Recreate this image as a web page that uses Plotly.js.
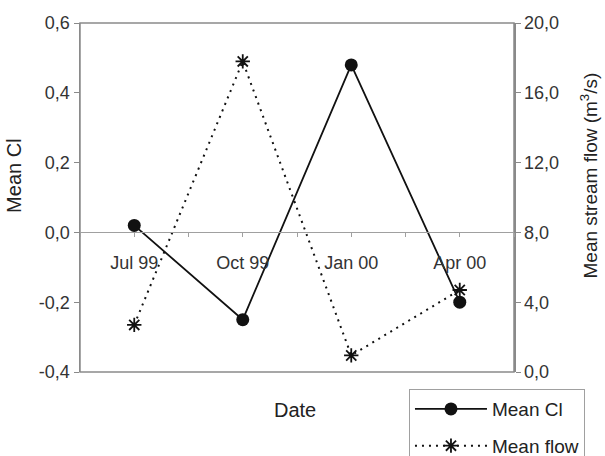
<!DOCTYPE html>
<html>
<head>
<meta charset="utf-8">
<script src="https://cdn.plot.ly/plotly-3.0.1.min.js"></script>
<style>
  html, body { margin: 0; padding: 0; background: #fff; }
  #chart { width: 605px; height: 456px; }
</style>
</head>
<body>
<div id="chart"></div>
<script>
// Quarterly sampling dates
const dates = ['Jul 99', 'Oct 99', 'Jan 00', 'Apr 00'];
// Mean chloride index (left axis)
const meanCl = [0.02, -0.25, 0.48, -0.20];
// Mean stream flow, m3/s (right axis)
const meanFlow = [2.7, 17.8, 0.95, 4.7];

// Axis tick values and labels (comma decimal separator)
const clTicks = [-0.4, -0.2, 0.0, 0.2, 0.4, 0.6];
const clTickText = ['-0,4', '-0,2', '0,0', '0,2', '0,4', '0,6'];
const flowTicks = [0, 4, 8, 12, 16, 20];
const flowTickText = ['0,0', '4,0', '8,0', '12,0', '16,0', '20,0'];

const xIdx = dates.map((_, i) => i);
const halfSteps = [-0.5].concat(xIdx.map(i => i + 0.5));

const FONT = 'Liberation Sans, Arial, sans-serif';
const AXIS_GREY = '#8a8a8a';
const TEXT = '#333333';

const traces = [
  {
    x: xIdx, y: meanCl, name: 'Mean Cl', legendgroup: 'cl',
    type: 'scatter', mode: 'lines+markers',
    line: { color: '#111111', width: 1.8 },
    marker: { symbol: 'circle', size: 13, color: '#111111' },
    xaxis: 'x', yaxis: 'y'
  },
  {
    x: xIdx, y: meanFlow, name: 'Mean flow', legendgroup: 'flow',
    type: 'scatter', mode: 'lines+markers',
    line: { color: '#111111', width: 2, dash: '2px,5px' },
    marker: { symbol: 'asterisk-open', size: 12, line: { color: '#111111', width: 1.8 } },
    xaxis: 'x', yaxis: 'y2'
  }
];

const layout = {
  width: 605, height: 456,
  margin: { l: 80, r: 91, t: 23, b: 84, autoexpand: false },
  paper_bgcolor: '#ffffff', plot_bgcolor: '#ffffff',
  font: { family: FONT, size: 18, color: TEXT },
  showlegend: true,
  xaxis: {
    range: [-0.5, 3.5],
    anchor: 'free', position: 0.4,
    showline: true, linecolor: '#a0a0a0', linewidth: 1,
    showgrid: false, zeroline: false,
    tickmode: 'array', tickvals: xIdx, ticktext: dates,
    ticks: 'outside', ticklen: 4, tickcolor: '#a0a0a0',
    minor: { tickmode: 'array', tickvals: halfSteps, ticks: 'outside', ticklen: 4, tickcolor: '#a0a0a0' },
    ticklabelstandoff: 10,
    tickfont: { family: FONT, size: 18, color: TEXT },
    fixedrange: true
  },
  yaxis: {
    range: [-0.4, 0.6], domain: [0, 1],
    showline: true, linecolor: AXIS_GREY, linewidth: 1.5,
    showgrid: false, zeroline: false,
    tickmode: 'array', tickvals: clTicks, ticktext: clTickText,
    ticks: 'outside', ticklen: 5, tickcolor: AXIS_GREY,
    tickfont: { family: FONT, size: 18, color: TEXT },
    fixedrange: true
  },
  yaxis2: {
    range: [0, 20], overlaying: 'y', side: 'right', anchor: 'x',
    showline: true, linecolor: AXIS_GREY, linewidth: 1.5,
    showgrid: false, zeroline: false,
    tickmode: 'array', tickvals: flowTicks, ticktext: flowTickText,
    ticks: 'outside', ticklen: 5, tickcolor: AXIS_GREY,
    tickfont: { family: FONT, size: 18, color: TEXT },
    fixedrange: true
  },
  shapes: [
    { type: 'rect', xref: 'paper', yref: 'paper', x0: 0, x1: 1, y0: 0, y1: 1,
      line: { color: AXIS_GREY, width: 1.5 }, fillcolor: 'rgba(0,0,0,0)', layer: 'below' }
  ],
  annotations: [
    { text: 'Mean Cl', xref: 'paper', yref: 'paper', x: -0.152, y: 0.562,
      textangle: -90, showarrow: false, xanchor: 'center', yanchor: 'middle',
      font: { family: FONT, size: 20, color: '#222222' } },
    { text: 'Mean stream flow (m<sup>3</sup>/s)', xref: 'paper', yref: 'paper', x: 1.172, y: 0.562,
      textangle: -90, showarrow: false, xanchor: 'center', yanchor: 'middle',
      font: { family: FONT, size: 19, color: '#222222' } },
    { text: 'Date', xref: 'paper', yref: 'paper', x: 0.495, y: -0.109,
      showarrow: false, xanchor: 'center', yanchor: 'middle',
      font: { family: FONT, size: 20, color: '#222222' } }
  ],
  legend: {
    x: 0.758, y: -0.049, xanchor: 'left', yanchor: 'top',
    bgcolor: '#ffffff', bordercolor: '#a0a0a0', borderwidth: 1,
    font: { family: FONT, size: 19, color: '#222222' },
    traceorder: 'grouped', tracegroupgap: 9, itemwidth: 72
  }
};

Plotly.newPlot('chart', traces, layout, { displayModeBar: false, staticPlot: true });
</script>
</body>
</html>
